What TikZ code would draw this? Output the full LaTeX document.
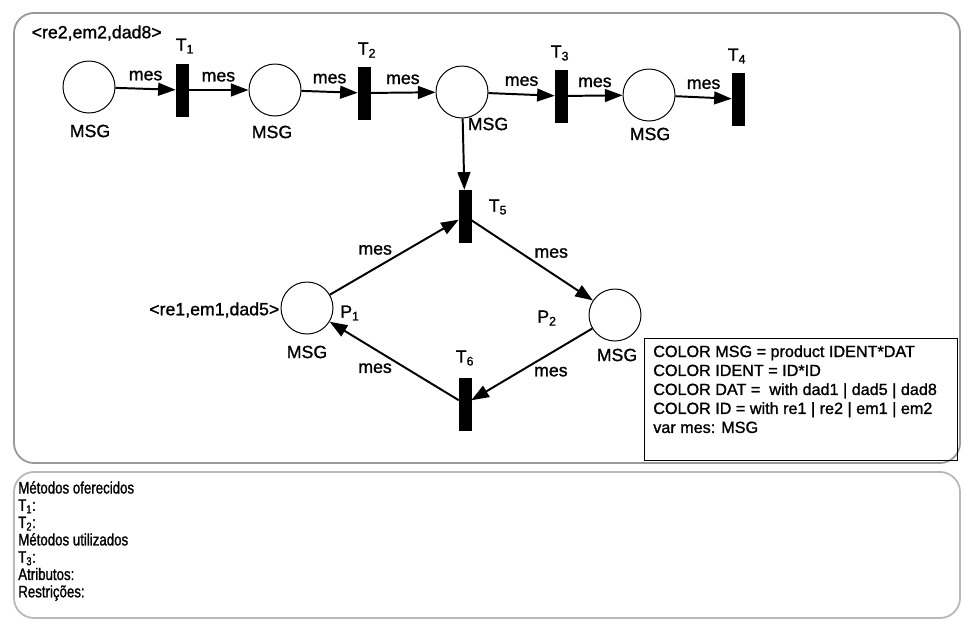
\documentclass[tikz,border=0pt]{standalone}
\usepackage{fontspec}
\setmainfont[FakeBold=1.2]{Liberation Sans}
\newfontfamily\declfont[FakeBold=1.2]{Liberation Sans}
\newfontfamily\narrowfont[FakeStretch=0.8,FakeBold=1.2]{Liberation Sans}
\usetikzlibrary{positioning,arrows.meta}
\tikzset{
  place/.style={draw,circle,line width=0.7pt,minimum size=1.3cm,inner sep=0pt},
  trans/.style={draw,fill=black,rectangle,minimum width=0.3cm,
               minimum height=1.3cm,inner sep=0pt},
  flow/.style={-{Triangle[length=4.4mm,width=3.2mm]},line width=1.4pt},
  lbl/.style={font=\fontsize{12.6}{14}\selectfont,inner sep=1pt},
  outline/.style={draw=gray!80,line width=1.3pt,rounded corners=0.5cm},
  declbox/.style={draw,line width=0.8pt,minimum width=7.825cm,minimum height=3.05cm,
                  inner sep=0pt,anchor=north west},
  decltxt/.style={font=\declfont\fontsize{11.5}{13.5}\selectfont,align=left,
                  inner sep=0pt,anchor=north west},
  methtxt/.style={font=\narrowfont\fontsize{11.8}{12.3}\selectfont,align=left,
                  inner sep=0pt,anchor=north west},
}
\begin{document}
\begin{tikzpicture}[x=0.025cm,y=-0.025cm]
  \useasboundingbox (0,0) rectangle (964,621);
  % frames
  \draw[outline] (14,13) rectangle (960,463);
  \draw[outline,draw=gray!55] (14,472) rectangle (960,618);

  % top row
  \node[place] (pa) at (89,87)  {};
  \node[trans] (t1) at (182,90) {};
  \node[place] (pb) at (275,90) {};
  \node[trans] (t2) at (364,93) {};
  \node[place] (pc) at (462,92) {};
  \node[trans] (t3) at (561,96) {};
  \node[place] (pd) at (649,95) {};
  \node[trans] (t4) at (738,99) {};
  % cycle
  \node[trans] (t5) at (465,216) {};
  \node[place] (p1) at (307,308) {};
  \node[place] (p2) at (615,315) {};
  \node[trans] (t6) at (465,404) {};

  % labels
  \node[lbl,anchor=west] (mark1) at (30,33) {<re2,em2,dad8>};
  \node[lbl,anchor=east] (mark2) at (281,310) {<re1,em1,dad5>};
  \node[lbl] (t1lbl) at (185,46)  {T\textsubscript{1}};
  \node[lbl] (t2lbl) at (367,50)  {T\textsubscript{2}};
  \node[lbl] (t3lbl) at (560,53)  {T\textsubscript{3}};
  \node[lbl] (t4lbl) at (737,56)  {T\textsubscript{4}};
  \node[lbl] (t5lbl) at (498,207) {T\textsubscript{5}};
  \node[lbl] (t6lbl) at (465,358) {T\textsubscript{6}};
  \node[lbl] (p1lbl) at (350,313) {P\textsubscript{1}};
  \node[lbl] (p2lbl) at (547,318) {P\textsubscript{2}};
  \node[lbl] (pamsg) at (90,131)  {MSG};
  \node[lbl] (pbmsg) at (272,132) {MSG};
  \node[lbl] (pcmsg) at (488,124) {MSG};
  \node[lbl] (pdmsg) at (650,134) {MSG};
  \node[lbl] (p1msg) at (307,352) {MSG};
  \node[lbl] (p2msg) at (617,355) {MSG};

  % arcs
  \draw[flow] (pa) -- node[lbl,above=1.5mm] (m1) {mes} (t1);
  \draw[flow] (t1) -- node[lbl,above=1.5mm] (m2) {mes} (pb);
  \draw[flow] (pb) -- node[lbl,above=1.5mm] (m3) {mes} (t2);
  \draw[flow] (t2) -- node[lbl,above=1.5mm] (m4) {mes} (pc);
  \draw[flow] (pc) -- node[lbl,above=1.5mm] (m5) {mes} (t3);
  \draw[flow] (t3) -- node[lbl,above=1.5mm] (m6) {mes} (pd);
  \draw[flow] (pd) -- node[lbl,above=1.5mm] (m7) {mes} (t4);
  \draw[flow] (pc) -- (t5);
  \draw[flow] (p1) -- node[lbl,above left]  (m8)  {mes} (t5);
  \draw[flow] (t5) -- node[lbl,above right] (m9)  {mes} (p2);
  \draw[flow] (p2) -- node[lbl,below right] (m10) {mes} (t6);
  \draw[flow] (t6) -- node[lbl,below left]  (m11) {mes} (p1);

  % declarations
  \node[declbox] (decl) at (644,338) {};
  \node[decltxt] (decltext) at (653,345) {COLOR MSG = product IDENT*DAT\\
    COLOR IDENT = ID*ID\\
    COLOR DAT = \ with dad1 | dad5 | dad8\\
    COLOR ID = with re1 | re2 | em1 | em2\\
    var mes: MSG};

  % methods
  \node[methtxt] (methods) at (18,481) {Métodos oferecidos\\
    T\textsubscript{1}:\\
    T\textsubscript{2}:\\
    Métodos utilizados\\
    T\textsubscript{3}:\\
    Atributos:\\
    Restrições:};
\end{tikzpicture}
\end{document}
